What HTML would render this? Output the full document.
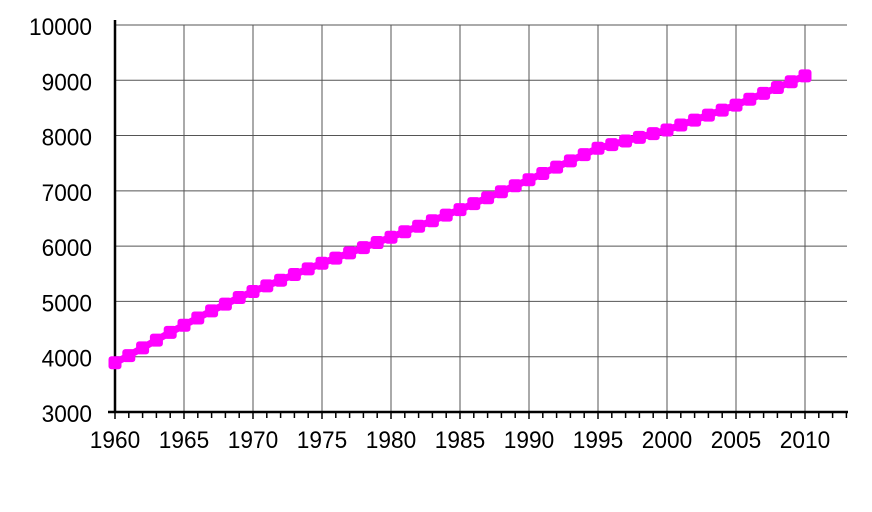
<!DOCTYPE html><html><head><style>body{margin:0;background:#fff}svg{display:block}</style></head><body>
<svg id="s" width="872" height="512" xmlns="http://www.w3.org/2000/svg" font-family="Liberation Sans, sans-serif" font-size="24"></svg>
<script>
const s=document.getElementById('s');let h='';
const X=y=>115+(y-1960)*13.8, Y=v=>412-(v-3000)*0.05529;
const T=(x,y,t,a)=>`<text x="${x}" y="${y}" text-anchor="${a}" textLength="${t.length*12.6}" lengthAdjust="spacingAndGlyphs">${t}</text>`;
for(let y=1965;y<=2010;y+=5)h+=`<line x1="${X(y)}" y1="25" x2="${X(y)}" y2="412" stroke="#555" stroke-width="1"/>`;
for(let v=4000;v<=10000;v+=1000)h+=`<line x1="115" y1="${Y(v)}" x2="847" y2="${Y(v)}" stroke="#555" stroke-width="1"/>`;
for(let v=3000;v<=10000;v+=1000)h+=T(92,Y(v)+10,String(v),"end");
for(let y=1960;y<=2013;y++)h+=`<line x1="${X(y)}" y1="412" x2="${X(y)}" y2="${y%5?418:419}" stroke="#000" stroke-width="1.5"/>`;
for(let y=1960;y<=2010;y+=5)h+=T(X(y),448,String(y),"middle");
h+=`<line x1="115" y1="20" x2="115" y2="413" stroke="#000" stroke-width="2.5"/><line x1="108" y1="412" x2="848" y2="412" stroke="#000" stroke-width="2.5"/>`;
const k={1960:3890,1961:4020,1962:4160,1963:4300,1964:4440,1965:4570,1966:4700,1967:4830,1968:4950,1969:5070,1970:5180,1975:5690,1980:6160,1985:6660,1990:7200,1995:7770,2000:8100,2005:8550,2010:9080};
const ks=Object.keys(k).map(Number);let pts=[];
for(let y=1960;y<=2010;y++){let v;if(k[y]!==undefined)v=k[y];else{let a=ks.filter(q=>q<y).pop(),b=ks.find(q=>q>y);v=k[a]+(k[b]-k[a])*(y-a)/(b-a);}pts.push([X(y),Y(v)]);}
h+=`<polyline points="${pts.map(p=>p.join(',')).join(' ')}" fill="none" stroke="#f0f" stroke-width="7"/>`;
pts.forEach(p=>h+=`<rect x="${p[0]-6.5}" y="${p[1]-6.5}" width="13" height="13" rx="3" fill="#f0f"/>`);
s.innerHTML=h;
</script></body></html>
